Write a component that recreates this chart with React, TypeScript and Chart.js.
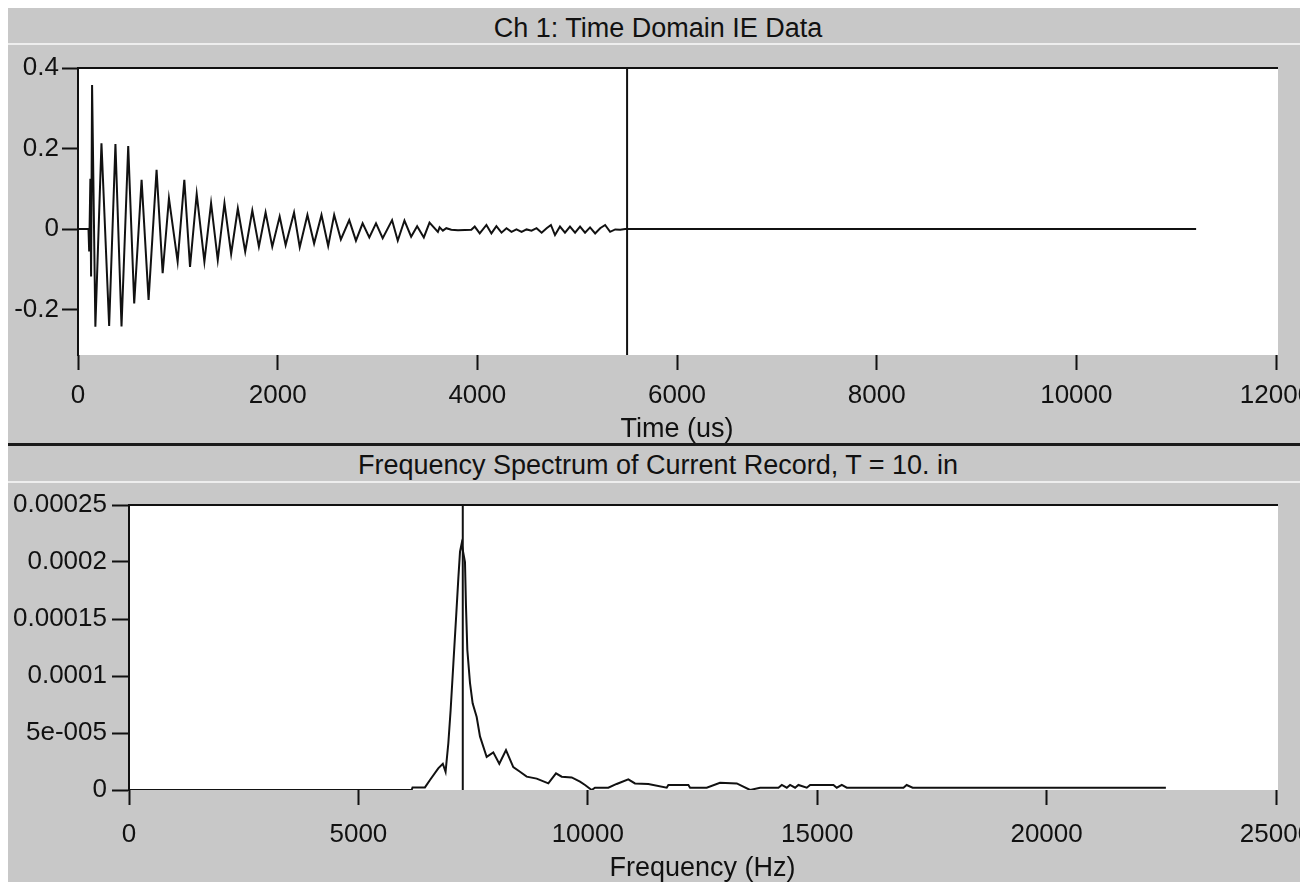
import React, { useEffect, useRef } from 'react';
import { Chart, registerables } from 'chart.js';

Chart.register(...registerables);

const FONT = '"Liberation Sans", Arial, Helvetica, sans-serif';
const INK = '#111111';
const PANEL_GRAY = '#c8c8c8';

// ---------- Panel 1: time domain ----------
const timeTitle = 'Ch 1: Time Domain IE Data';
const timeAxisTitle = 'Time (us)';
const timeTicks = [0, 2000, 4000, 6000, 8000, 10000, 12000];
const ampTicks = [-0.2, 0, 0.2, 0.4];
const ampTickLabels = ['-0.2', '0', '0.2', '0.4'];
const timeMin = 0;
const timeMax = 12000;
const ampMin = -0.313;
const ampMax = 0.4;
const timeCursorUs = 5500;

const timeUs = [
  0, 105, 112, 124, 131, 141, 174, 235, 312, 375, 436, 503, 563, 637, 707, 787, 848, 911, 998,
  1065, 1122, 1189, 1266, 1333, 1400, 1467, 1534, 1601, 1675, 1746, 1812, 1879, 1946, 2020, 2080,
  2164, 2221, 2298, 2365, 2439, 2506, 2566, 2633, 2717, 2784, 2851, 2918, 2985, 3052, 3146, 3203,
  3270, 3337, 3397, 3464, 3521, 3605, 3622, 3655, 3689, 3739, 3806, 3940, 3974, 4024, 4091, 4141,
  4191, 4242, 4292, 4342, 4392, 4443, 4493, 4543, 4593, 4644, 4694, 4737, 4778, 4828, 4878, 4928,
  4979, 5029, 5079, 5129, 5180, 5230, 5280, 5330, 5381, 5431, 5481, 5500, 11200,
];
const amplitude = [
  0, 0, -0.056, 0.125, -0.118, 0.358, -0.243, 0.213, -0.241, 0.211, -0.242, 0.206, -0.185, 0.122,
  -0.176, 0.147, -0.11, 0.076, -0.081, 0.122, -0.094, 0.087, -0.081, 0.064, -0.077, 0.064, -0.062,
  0.051, -0.056, 0.046, -0.044, 0.041, -0.044, 0.031, -0.04, 0.041, -0.045, 0.035, -0.036, 0.035,
  -0.042, 0.035, -0.026, 0.022, -0.029, 0.014, -0.021, 0.014, -0.023, 0.022, -0.029, 0.021, -0.019,
  0.007, -0.021, 0.016, -0.007, 0.004, -0.004, 0.002, -0.002, -0.003, -0.002, 0.006, -0.011, 0.01,
  -0.011, 0.007, -0.009, 0.002, -0.007, -0.001, -0.007, -0.001, -0.004, 0.002, -0.009, 0.002, 0.01,
  -0.015, 0.006, -0.009, 0.006, -0.009, 0.006, -0.009, 0.004, -0.011, 0.002, 0.01, -0.007, -0.001,
  -0.002, 0, 0, 0,
];

// ---------- Panel 2: frequency spectrum ----------
const freqTitle = 'Frequency Spectrum of Current Record, T = 10. in';
const freqAxisTitle = 'Frequency (Hz)';
const freqTicks = [0, 5000, 10000, 15000, 20000, 25000];
const magTicks = [0, 0.00005, 0.0001, 0.00015, 0.0002, 0.00025];
const magTickLabels = ['0', '5e-005', '0.0001', '0.00015', '0.0002', '0.00025'];
const freqMin = 0;
const freqMax = 25000;
const magMin = 0;
const magMax = 0.00025;
const freqCursorHz = 7275;

const freqHz = [
  0, 6160, 6180, 6450, 6560, 6740, 6840, 6900, 6960, 7010, 7070, 7130, 7180, 7215, 7250, 7323, 7345,
  7374, 7432, 7490, 7578, 7650, 7796, 7940, 8071, 8217, 8376, 8522, 8668, 8886, 9140, 9307, 9431,
  9649, 9830, 9940, 10084, 10157, 10447, 10629, 10883, 11028, 11319, 11720, 11756, 12192, 12229,
  12592, 12881, 13247, 13538, 13756, 14155, 14228, 14337, 14409, 14518, 14591, 14773, 14846, 15354,
  15427, 15536, 15645, 16880, 16950, 17080, 22600,
];
const magnitude = [
  0, 0, 2.3e-6, 2.3e-6, 8.8e-6, 1.9e-5, 2.3e-5, 1.6e-5, 4.1e-5, 7.0e-5, 1.11e-4, 1.52e-4, 1.87e-4,
  2.09e-4, 2.16e-4, 2.0e-4, 1.61e-4, 1.23e-4, 9.4e-5, 7.6e-5, 6.4e-5, 4.7e-5, 2.9e-5, 3.3e-5, 2.3e-5,
  3.5e-5, 2.0e-5, 1.6e-5, 1.17e-5, 1.0e-5, 5.8e-6, 1.46e-5, 1.17e-5, 1.1e-5, 7.3e-6, 4.4e-6, 0, 2e-6,
  2e-6, 5.3e-6, 9.4e-6, 5.8e-6, 5.3e-6, 2e-6, 4.4e-6, 4.4e-6, 2e-6, 2e-6, 6.4e-6, 5.8e-6, 0, 2e-6,
  2e-6, 4.4e-6, 2e-6, 4.4e-6, 2e-6, 4.4e-6, 2e-6, 4.4e-6, 4.4e-6, 2e-6, 4.4e-6, 2e-6, 2e-6, 4.4e-6,
  2e-6, 2e-6,
];

const plotFrame = {
  id: 'plotFrame',
  beforeDraw(chart: any) {
    const { ctx, chartArea } = chart;
    ctx.save();
    ctx.fillStyle = '#ffffff';
    ctx.fillRect(chartArea.left, chartArea.top, chartArea.right - chartArea.left + 2, chartArea.bottom - chartArea.top);
    ctx.restore();
  },
  afterDraw(chart: any) {
    const { ctx, chartArea } = chart;
    ctx.save();
    ctx.strokeStyle = INK;
    ctx.lineWidth = 2;
    ctx.beginPath();
    ctx.moveTo(chartArea.left - 1, chartArea.top);
    ctx.lineTo(chartArea.right + 2, chartArea.top);
    ctx.stroke();
    ctx.restore();
  },
};

type PlotCfg = {
  xs: number[];
  ys: number[];
  cursor: number;
  xMin: number;
  xMax: number;
  yMin: number;
  yMax: number;
  xTicks: number[];
  yTicks: number[];
  yLabels: string[];
  xTitle: string;
  yAxisWidth: number;
  xAxisHeight: number;
  padTop: number;
  xLabelPad: number;
  yLabelPad: number;
  yTickLen: number;
};

function buildChart(canvas: HTMLCanvasElement, c: PlotCfg) {
  return new Chart(canvas, {
    type: 'line',
    data: {
      datasets: [
        {
          data: c.xs.map((x, i) => ({ x, y: c.ys[i] })),
          borderColor: INK,
          borderWidth: 2,
          pointRadius: 0,
          fill: false,
          tension: 0,
        },
        {
          data: [
            { x: c.cursor, y: c.yMin },
            { x: c.cursor, y: c.yMax },
          ],
          borderColor: INK,
          borderWidth: 2,
          pointRadius: 0,
          fill: false,
        },
      ],
    },
    options: {
      animation: false,
      responsive: false,
      events: [],
      layout: { padding: { top: c.padTop, right: 32, bottom: 0, left: 0 } },
      plugins: {
        legend: { display: false },
        title: { display: false },
        tooltip: { enabled: false },
      },
      scales: {
        x: {
          type: 'linear',
          min: c.xMin,
          max: c.xMax,
          afterBuildTicks: (s: any) => {
            s.ticks = c.xTicks.map((v) => ({ value: v }));
          },
          afterFit: (s: any) => {
            s.height = c.xAxisHeight;
            s.paddingLeft = 0;
            s.paddingRight = 0;
          },
          ticks: {
            autoSkip: false,
            maxRotation: 0,
            color: INK,
            padding: c.xLabelPad,
            font: { family: FONT, size: 26 },
            callback: (v: any) => String(v),
          },
          grid: {
            drawOnChartArea: false,
            drawTicks: true,
            tickLength: 15,
            tickWidth: 2,
            tickColor: INK,
          },
          border: { display: false },
          title: {
            display: true,
            text: c.xTitle,
            color: INK,
            font: { family: FONT, size: 27, lineHeight: 1 },
            padding: { top: 0, bottom: 0 },
          },
        },
        y: {
          type: 'linear',
          min: c.yMin,
          max: c.yMax,
          afterBuildTicks: (s: any) => {
            s.ticks = c.yTicks.map((v) => ({ value: v }));
          },
          afterFit: (s: any) => {
            s.width = c.yAxisWidth;
            s.paddingTop = 0;
            s.paddingBottom = 0;
          },
          ticks: {
            autoSkip: false,
            color: INK,
            padding: c.yLabelPad,
            font: { family: FONT, size: 26 },
            callback: (_v: any, i: number) => c.yLabels[i],
          },
          grid: {
            drawOnChartArea: false,
            drawTicks: true,
            tickLength: c.yTickLen,
            tickWidth: 2,
            tickColor: INK,
          },
          border: { display: true, color: INK, width: 2 },
        },
      },
    } as any,
    plugins: [plotFrame],
  });
}

const titleStyle = (top: number): React.CSSProperties => ({
  position: 'absolute',
  left: 0,
  top,
  width: 1300,
  height: 32,
  lineHeight: '32px',
  textAlign: 'center',
  fontFamily: FONT,
  fontSize: 27,
  color: INK,
  whiteSpace: 'nowrap',
});

export default function App() {
  const c1 = useRef<HTMLCanvasElement>(null);
  const c2 = useRef<HTMLCanvasElement>(null);

  useEffect(() => {
    document.body.style.overflow = 'hidden';
    const a = buildChart(c1.current!, {
      xs: timeUs,
      ys: amplitude,
      cursor: timeCursorUs,
      xMin: timeMin,
      xMax: timeMax,
      yMin: ampMin,
      yMax: ampMax,
      xTicks: timeTicks,
      yTicks: ampTicks,
      yLabels: ampTickLabels,
      xTitle: timeAxisTitle,
      yAxisWidth: 70,
      xAxisHeight: 88,
      padTop: 60,
      xLabelPad: 10,
      yLabelPad: 3,
      yTickLen: 16,
    });
    const b = buildChart(c2.current!, {
      xs: freqHz,
      ys: magnitude,
      cursor: freqCursorHz,
      xMin: freqMin,
      xMax: freqMax,
      yMin: magMin,
      yMax: magMax,
      xTicks: freqTicks,
      yTicks: magTicks,
      yLabels: magTickLabels,
      xTitle: freqAxisTitle,
      yAxisWidth: 121,
      xAxisHeight: 92,
      padTop: 59,
      xLabelPad: 14,
      yLabelPad: 5,
      yTickLen: 17,
    });
    return () => {
      a.destroy();
      b.destroy();
    };
  }, []);

  return (
    <div style={{ position: 'relative', width: 1300, height: 874, background: PANEL_GRAY, overflow: 'hidden' }}>
      <div style={titleStyle(4)}>{timeTitle}</div>
      <div style={{ position: 'absolute', left: 0, top: 35, width: 1300, height: 2, background: '#eeeeee' }} />
      <canvas ref={c1} width={1300} height={435} style={{ position: 'absolute', left: 0, top: 0 }} />
      <div style={{ position: 'absolute', left: 0, top: 435, width: 1300, height: 3, background: '#1a1a1a' }} />
      <div style={titleStyle(441)}>{freqTitle}</div>
      <div style={{ position: 'absolute', left: 0, top: 473, width: 1300, height: 2, background: '#eeeeee' }} />
      <canvas ref={c2} width={1300} height={436} style={{ position: 'absolute', left: 0, top: 438 }} />
    </div>
  );
}
